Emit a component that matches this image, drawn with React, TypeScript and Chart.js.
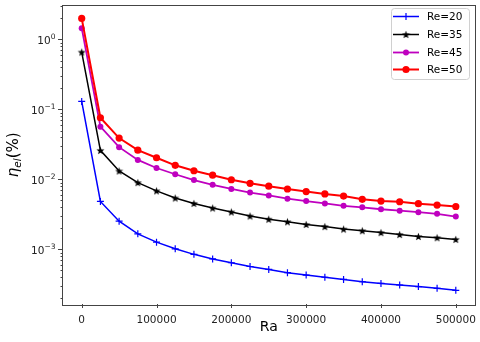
import React, { useEffect, useRef } from "react";
import { Chart, registerables } from "chart.js";

Chart.register(...registerables);

const RA = [0, 25000, 50000, 75000, 100000, 125000, 150000, 175000, 200000, 225000, 250000, 275000, 300000, 325000, 350000, 375000, 400000, 425000, 450000, 475000, 500000];
const RE20 = [0.13, 0.00485, 0.00253, 0.00167, 0.00127, 0.00102, 0.00085, 0.00073, 0.000645, 0.00057, 0.000517, 0.000465, 0.00043, 0.0004, 0.000373, 0.000346, 0.000327, 0.00031, 0.000294, 0.000278, 0.00026];
const RE35 = [0.66, 0.026, 0.0132, 0.009, 0.00687, 0.00542, 0.00454, 0.0039, 0.00343, 0.003, 0.0027, 0.00248, 0.00227, 0.00212, 0.00195, 0.00185, 0.00174, 0.00163, 0.00153, 0.00147, 0.00139];
const RE45 = [1.45, 0.0567, 0.0289, 0.019, 0.01456, 0.01185, 0.0098, 0.00836, 0.0073, 0.0065, 0.0059, 0.0053, 0.0049, 0.00454, 0.0042, 0.004, 0.00375, 0.00358, 0.0034, 0.00322, 0.00295];
const RE50 = [2.0, 0.076, 0.039, 0.0262, 0.0204, 0.0159, 0.0133, 0.0115, 0.0099, 0.0088, 0.008, 0.0073, 0.0067, 0.0062, 0.00578, 0.0052, 0.0049, 0.0048, 0.0045, 0.0043, 0.0041];
const SERIES_LABELS = ["Re=20", "Re=35", "Re=45", "Re=50"];
const X_TICKS = [0, 100000, 200000, 300000, 400000, 500000];
const Y_MAJOR_EXP = [0, -1, -2, -3];

const FONT = '"DejaVu Sans", sans-serif';

function makeStar(size: number, color: string) {
  const c = document.createElement("canvas");
  c.width = size;
  c.height = size;
  const g = c.getContext("2d")!;
  const cx = size / 2, cy = size / 2 + 0.4;
  const ro = size / 2 - 0.3, ri = ro * 0.42;
  g.beginPath();
  for (let i = 0; i < 10; i++) {
    const r = i % 2 === 0 ? ro : ri;
    const a = -Math.PI / 2 + (i * Math.PI) / 5;
    const x = cx + r * Math.cos(a), y = cy + r * Math.sin(a);
    if (i === 0) g.moveTo(x, y); else g.lineTo(x, y);
  }
  g.closePath();
  g.fillStyle = color;
  g.fill();
  return c;
}

function isPow10(v: number) {
  const l = Math.log10(v);
  return Math.abs(l - Math.round(l)) < 1e-9;
}

const decorPlugin = {
  id: "decor",
  afterDraw(chart: any) {
    const ctx = chart.ctx as CanvasRenderingContext2D;
    const { left, right, top, bottom } = chart.chartArea;
    const xs = chart.scales.x;
    const ys = chart.scales.y;
    ctx.save();
    // frame
    ctx.strokeStyle = "#444";
    ctx.lineWidth = 1;
    ctx.strokeRect(Math.round(left) - 0.5, Math.round(top) - 0.5, Math.round(right - left) + 1, Math.round(bottom - top) + 1);
    // x ticks
    ctx.beginPath();
    for (const t of xs.ticks) {
      const px = Math.round(xs.getPixelForValue(t.value)) + 0.5;
      ctx.moveTo(px, bottom);
      ctx.lineTo(px, bottom + 4);
    }
    // y ticks
    for (const t of ys.ticks) {
      const py = Math.round(ys.getPixelForValue(t.value)) + 0.5;
      const len = isPow10(t.value) ? 5 : 2.5;
      ctx.moveTo(left, py);
      ctx.lineTo(left - len, py);
    }
    ctx.stroke();

    // x tick labels
    ctx.fillStyle = "#222";
    ctx.font = `10.5px ${FONT}`;
    ctx.textAlign = "center";
    ctx.textBaseline = "alphabetic";
    for (const t of xs.ticks) {
      ctx.fillText(String(t.value), xs.getPixelForValue(t.value), 322.5);
    }
    // y tick labels with superscript exponent
    ctx.textAlign = "left";
    for (const e of Y_MAJOR_EXP) {
      const py = ys.getPixelForValue(Math.pow(10, e));
      const base = "10";
      const exp = e < 0 ? "\u2212" + String(-e) : String(e);
      ctx.font = `10.5px ${FONT}`;
      const wb = ctx.measureText(base).width;
      ctx.font = `7.5px ${FONT}`;
      const we = ctx.measureText(exp).width;
      const x0 = 55.5 - wb - we;
      ctx.font = `10.5px ${FONT}`;
      ctx.fillText(base, x0, py + 4.3);
      ctx.font = `7.5px ${FONT}`;
      ctx.fillText(exp, x0 + wb, py - 0.5);
    }

    // x title
    ctx.fillStyle = "#000";
    ctx.font = `14px ${FONT}`;
    ctx.textAlign = "center";
    ctx.fillText("Ra", (left + right) / 2, 331);

    // y title (rotated)
    ctx.save();
    ctx.translate(18, (top + bottom) / 2);
    ctx.rotate(-Math.PI / 2);
    const f = 15;
    const parts = [
      { t: "η", font: `italic ${f}px ${FONT}`, dy: 0 },
      { t: "el", font: `italic ${f * 0.7}px ${FONT}`, dy: f * 0.22 },
      { t: "(%)", font: `${f}px ${FONT}`, dy: 0 },
    ];
    let total = 0;
    const widths = parts.map((p) => { ctx.font = p.font; const w = ctx.measureText(p.t).width; total += w; return w; });
    let x = -total / 2;
    ctx.textAlign = "left";
    parts.forEach((p, i) => { ctx.font = p.font; ctx.fillText(p.t, x, p.dy); x += widths[i]; });
    ctx.restore();

    // legend
    const bx = 391, by = 8, bw = 78, bh = 71;
    ctx.beginPath();
    (ctx as any).roundRect(bx + 0.5, by + 0.5, bw, bh, 3);
    ctx.fillStyle = "rgba(255,255,255,0.8)";
    ctx.fill();
    ctx.strokeStyle = "#d0d0d0";
    ctx.lineWidth = 1;
    ctx.stroke();
    const rows = [16, 34, 52, 69];
    chart.data.datasets.forEach((ds: any, i: number) => {
      const y = rows[i] + 0.5;
      ctx.strokeStyle = ds.borderColor;
      ctx.lineWidth = ds.borderWidth;
      ctx.beginPath();
      ctx.moveTo(393, y);
      ctx.lineTo(419, y);
      ctx.stroke();
      const cx = 406;
      if (ds.pointStyle === "cross") {
        ctx.lineWidth = 1.2;
        ctx.beginPath();
        ctx.moveTo(cx, y - 3.5); ctx.lineTo(cx, y + 3.5);
        ctx.moveTo(cx - 3.5, y); ctx.lineTo(cx + 3.5, y);
        ctx.stroke();
      } else if (ds.pointStyle === "circle") {
        ctx.fillStyle = ds.pointBackgroundColor;
        ctx.beginPath();
        ctx.arc(cx, y, ds.pointRadius, 0, Math.PI * 2);
        ctx.fill();
      } else {
        const img = ds.pointStyle as HTMLCanvasElement;
        ctx.drawImage(img, cx - img.width / 2, y - img.height / 2);
      }
      ctx.fillStyle = "#000";
      ctx.font = `10.5px ${FONT}`;
      ctx.textAlign = "left";
      ctx.textBaseline = "middle";
      ctx.fillText(ds.label, 427, y + 0.5);
      ctx.textBaseline = "alphabetic";
    });
    ctx.restore();
  },
};

export default function App() {
  const ref = useRef<HTMLCanvasElement | null>(null);
  useEffect(() => {
    if (!ref.current) return;
    const star = makeStar(9, "#000");
    const mk = (data: number[]) => RA.map((x, i) => ({ x, y: data[i] }));
    const chart = new Chart(ref.current, {
      type: "line",
      data: {
        datasets: [
          { label: SERIES_LABELS[0], data: mk(RE20), borderColor: "#0000ff", backgroundColor: "#0000ff", borderWidth: 1.5, pointStyle: "cross", pointRadius: 3.5, pointBorderWidth: 1.2, pointBorderColor: "#0000ff", order: 3 },
          { label: SERIES_LABELS[1], data: mk(RE35), borderColor: "#000000", backgroundColor: "#000000", borderWidth: 1.5, pointStyle: star as any, pointRadius: 4, order: 2 },
          { label: SERIES_LABELS[2], data: mk(RE45), borderColor: "#bf00bf", backgroundColor: "#bf00bf", borderWidth: 1.8, pointStyle: "circle", pointRadius: 3, pointBackgroundColor: "#bf00bf", pointBorderWidth: 0, order: 1 },
          { label: SERIES_LABELS[3], data: mk(RE50), borderColor: "#ff0000", backgroundColor: "#ff0000", borderWidth: 2, pointStyle: "circle", pointRadius: 3.6, pointBackgroundColor: "#ff0000", pointBorderWidth: 0, order: 0 },
        ] as any,
      },
      options: {
        animation: false,
        responsive: false,
        devicePixelRatio: 1,
        layout: { padding: { top: 3, right: 5, left: 0, bottom: 0 } },
        plugins: { legend: { display: false }, tooltip: { enabled: false } },
        elements: { line: { tension: 0 } },
        scales: {
          x: {
            type: "linear",
            min: -25000,
            max: 525000,
            grid: { display: false },
            border: { display: false },
            afterBuildTicks: (s: any) => { s.ticks = X_TICKS.map((v) => ({ value: v })); },
            afterFit: (s: any) => { s.height = 38; },
            ticks: { display: false, autoSkip: false, maxRotation: 0 },
          },
          y: {
            type: "logarithmic",
            min: Math.pow(10, -3.78),
            max: Math.pow(10, 0.485),
            grid: { display: false },
            border: { display: false },
            afterBuildTicks: (s: any) => {
              const arr: any[] = [];
              for (let e = -4; e <= 0; e++) {
                for (let m = 1; m <= 9; m++) {
                  const v = m * Math.pow(10, e);
                  if (v >= s.min && v <= s.max) arr.push({ value: v, major: m === 1 });
                }
              }
              s.ticks = arr;
            },
            afterFit: (s: any) => { s.width = 63; },
            ticks: { display: false, autoSkip: false },
          },
        },
      },
      plugins: [decorPlugin],
    });
    return () => chart.destroy();
  }, []);
  return (
    <div style={{ position: "absolute", left: 0, top: 0, width: 480, height: 342, background: "#fff" }}>
      <canvas ref={ref} width={480} height={342} />
    </div>
  );
}
